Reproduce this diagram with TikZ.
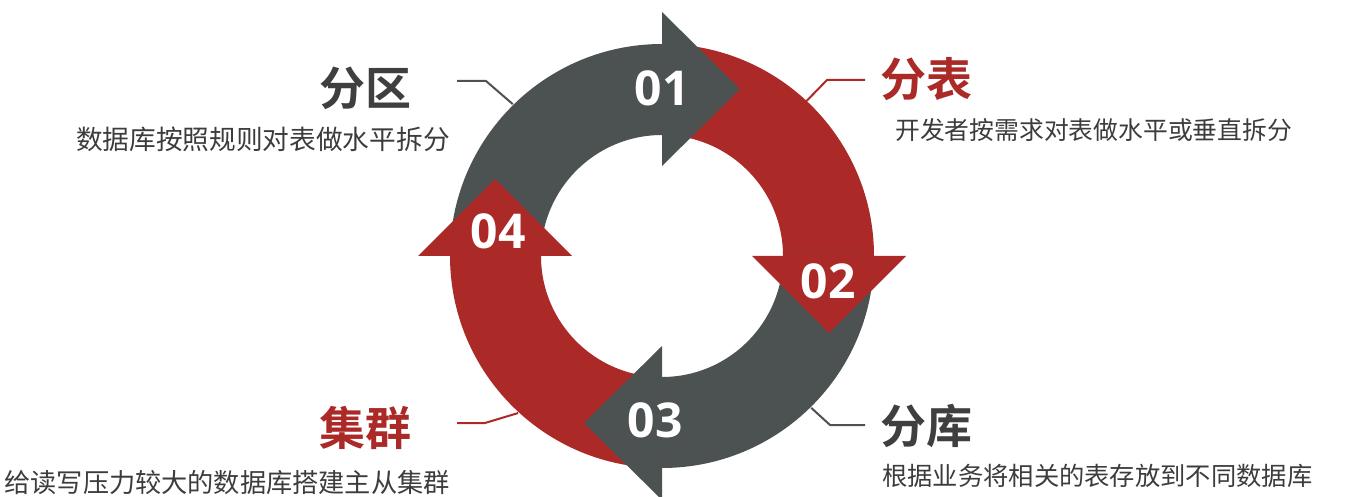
\documentclass[tikz,border=0pt]{standalone}
\usepackage{fontspec}
\newfontfamily\cjk{Noto Sans CJK SC}
\newfontfamily\cjkb{Noto Sans CJK SC Bold}
\newfontfamily\numf{Open Sans}
\definecolor{ringred}{HTML}{AB2926}
\definecolor{ringgray}{HTML}{4C5251}
\definecolor{titlegray}{HTML}{3F3F3F}
\definecolor{subgray}{HTML}{3C3C3C}
\tikzset{
  numlabel/.style={text=white, font=\numf\bfseries\fontsize{48}{48}\selectfont, inner sep=0pt},
  titlelabel/.style={font=\cjkb\fontsize{46}{46}\selectfont, inner sep=0pt},
  sublabel/.style={text=subgray, inner sep=0pt},
  leader/.style={line width=2pt},
}
\begin{document}
\begin{tikzpicture}[x=1pt,y=1pt]
\useasboundingbox (0,0) rectangle (1358,496);
\begin{scope}[shift={(662,240)}]
  % arcs
  \fill[ringgray] (180:212) arc (180:90:212) -- (90:121) arc (90:180:121) -- cycle;
  \fill[ringred] (90:212) arc (90:0:212) -- (0:121) arc (0:90:121) -- cycle;
  \fill[ringgray] (0:212) arc (0:-90:212) -- (-90:121) arc (-90:0:121) -- cycle;
  \fill[ringred] (-90:212) arc (-90:-180:212) -- (-180:121) arc (-180:-90:121) -- cycle;
  % arrowheads
  \fill[ringgray] (0,244) -- (78,167) -- (0,90) -- cycle;
  \fill[ringred] (90,0) -- (244,0) -- (167,-77) -- cycle;
  \fill[ringgray] (0,-90) -- (0,-244) -- (-78,-167) -- cycle;
  \fill[ringred] (-90,0) -- (-244,0) -- (-167,77) -- cycle;
  % ring anchor points for leaders
  \coordinate (r1) at (134.5:213);
  \coordinate (r2) at (47:212);
  \coordinate (r3) at (-45.5:213);
  \coordinate (r4) at (-132.5:213);
\end{scope}
% numbers
\node[numlabel] (n1) at (662,408) {01};
\node[numlabel] (n2) at (828,215) {02};
\node[numlabel] (n3) at (655,76) {03};
\node[numlabel] (n4) at (498,265) {04};
% titles
\node[titlelabel, text=titlegray, anchor=east] (t1) at (412,408) {分区};
\node[sublabel, anchor=east, font=\cjk\fontsize{26.7}{26.7}\selectfont] (s1) at (450,357) {数据库按照规则对表做水平拆分};
\node[titlelabel, text=ringred, anchor=west] (t2) at (880,417) {分表};
\node[sublabel, anchor=west, font=\cjk\fontsize{24.8}{24.8}\selectfont] (s2) at (895,365.5) {开发者按需求对表做水平或垂直拆分};
\node[titlelabel, text=titlegray, anchor=west] (t3) at (880,70) {分库};
\node[sublabel, anchor=west, font=\cjk\fontsize{25.3}{25.3}\selectfont] (s3) at (882,20) {根据业务将相关的表存放到不同数据库};
\node[titlelabel, text=ringred, anchor=east] (t4) at (412,68) {集群};
\node[sublabel, anchor=east, font=\cjk\fontsize{26.2}{26.2}\selectfont] (s4) at (450,13) {给读写压力较大的数据库搭建主从集群};
% leader lines
\coordinate (e1) at (457,415);
\coordinate (e2) at (865,416);
\coordinate (e3) at (865,71);
\coordinate (e4) at (457,73);
\draw[leader, ringgray] (e1) -- (486,415) -- (r1);
\draw[leader, ringred] (e2) -- (827,416) -- (r2);
\draw[leader, ringgray] (e3) -- (830,71) -- (r3);
\draw[leader, ringred] (e4) -- (485,73) -- (r4);
\end{tikzpicture}
\end{document}
